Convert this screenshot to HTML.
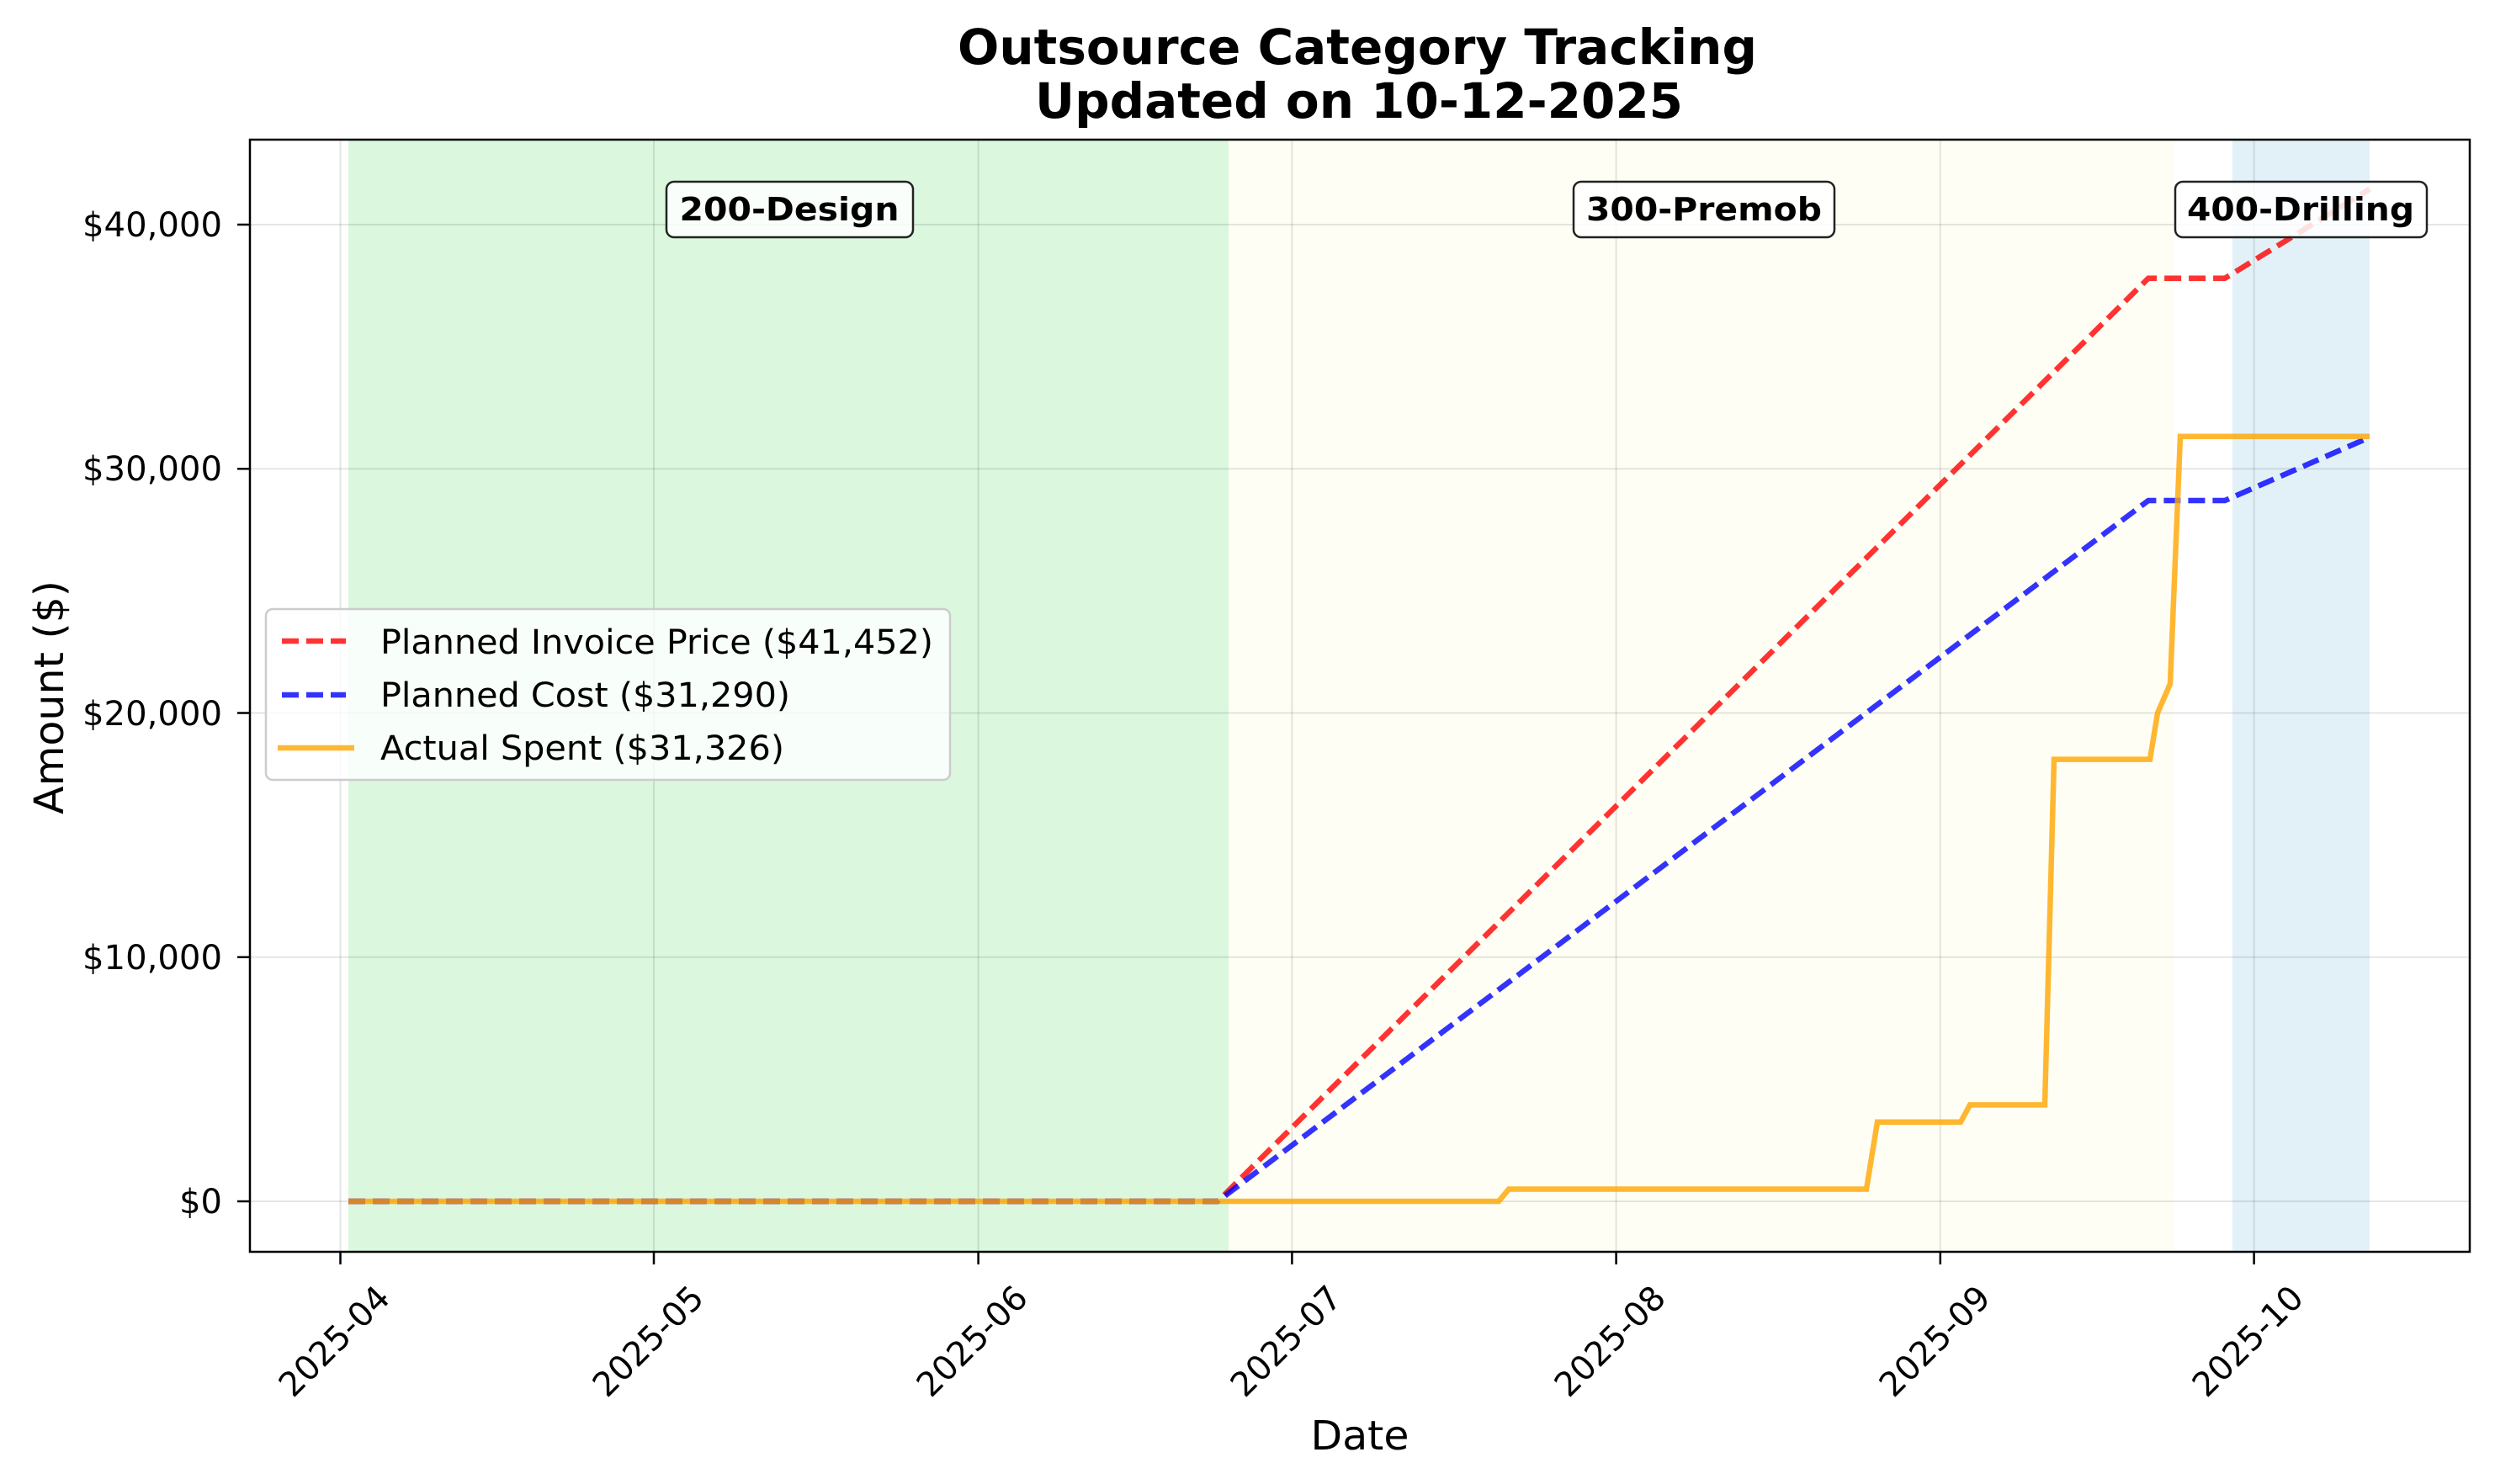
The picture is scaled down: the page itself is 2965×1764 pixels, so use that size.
<!DOCTYPE html>
<html><head><meta charset="utf-8"><style>html,body{margin:0;padding:0;background:#fff}svg{display:block}</style></head>
<body>
<svg width="2965" height="1764" viewBox="0 0 2965 1764" xmlns="http://www.w3.org/2000/svg" font-family="DejaVu Sans, Liberation Sans, sans-serif">
<rect width="2965" height="1764" fill="#fff"/>
<!-- spans -->
<rect x="414" y="166" width="1046" height="1322" fill="#dbf7de"/>
<rect x="1460" y="166" width="1123" height="1322" fill="#fefef4"/>
<rect x="2653" y="166" width="163" height="1322" fill="#e2f1f7"/>
<!-- grid -->
<g stroke="#000" stroke-opacity="0.1" stroke-width="2">
<line x1="404.5" y1="166" x2="404.5" y2="1488"/><line x1="777" y1="166" x2="777" y2="1488"/>
<line x1="1162.6" y1="166" x2="1162.6" y2="1488"/><line x1="1535.4" y1="166" x2="1535.4" y2="1488"/>
<line x1="1920.6" y1="166" x2="1920.6" y2="1488"/><line x1="2305.8" y1="166" x2="2305.8" y2="1488"/>
<line x1="2678.6" y1="166" x2="2678.6" y2="1488"/>
<line x1="297" y1="1428" x2="2935" y2="1428"/><line x1="297" y1="1137.75" x2="2935" y2="1137.75"/>
<line x1="297" y1="847.5" x2="2935" y2="847.5"/><line x1="297" y1="557.25" x2="2935" y2="557.25"/>
<line x1="297" y1="267" x2="2935" y2="267"/>
</g>
<!-- series -->
<polyline fill="none" stroke="#ff0000" stroke-opacity="0.8" stroke-width="6.5" stroke-dasharray="20,9" points="414,1428 1447,1428 2553,330.8 2644,330.8 2816,224.8"/>
<polyline fill="none" stroke="#0000ff" stroke-opacity="0.8" stroke-width="6.5" stroke-dasharray="20,9" points="414,1428 1447,1428 2553,595 2644,595 2816,519.8"/>
<polyline fill="none" stroke="#ffa500" stroke-opacity="0.8" stroke-width="6.5" points="414,1428 1781,1428 1793,1413.5 2218,1413.5 2231,1333.7 2330,1333.7 2341,1313.4 2430,1313.4 2441,902.6 2555,902.6 2564,847.5 2579,812.7 2591,518.8 2816,518.8"/>
<!-- axes -->
<rect x="297" y="166" width="2638" height="1322" fill="none" stroke="#000" stroke-width="2.5"/>
<!-- phase labels -->
<g font-weight="bold" font-size="38" text-anchor="middle">
<rect x="792" y="216" width="293" height="66" rx="9" fill="#fff" fill-opacity="0.85" stroke="#222" stroke-width="2.5"/>
<text x="938" y="262" textLength="261" lengthAdjust="spacingAndGlyphs">200-Design</text>
<rect x="1870" y="216" width="310" height="66" rx="9" fill="#fff" fill-opacity="0.85" stroke="#222" stroke-width="2.5"/>
<text x="2025" y="262" textLength="280" lengthAdjust="spacingAndGlyphs">300-Premob</text>
<rect x="2585" y="216" width="299" height="66" rx="9" fill="#fff" fill-opacity="0.85" stroke="#222" stroke-width="2.5"/>
<text x="2734" y="262" textLength="270" lengthAdjust="spacingAndGlyphs">400-Drilling</text>
</g>
<!-- y ticks -->
<g stroke="#000" stroke-width="2.5"><line x1="282" y1="1428" x2="297" y2="1428"/><line x1="282" y1="1137.75" x2="297" y2="1137.75"/><line x1="282" y1="847.5" x2="297" y2="847.5"/><line x1="282" y1="557.25" x2="297" y2="557.25"/><line x1="282" y1="267" x2="297" y2="267"/></g>
<g font-size="40" text-anchor="end">
<text x="264" y="1442">$0</text><text x="264" y="1152" textLength="166" lengthAdjust="spacingAndGlyphs">$10,000</text><text x="264" y="862" textLength="166" lengthAdjust="spacingAndGlyphs">$20,000</text><text x="264" y="571" textLength="166" lengthAdjust="spacingAndGlyphs">$30,000</text><text x="264" y="281" textLength="166" lengthAdjust="spacingAndGlyphs">$40,000</text>
</g>
<!-- x ticks -->
<g stroke="#000" stroke-width="2.5"><line x1="404.5" y1="1488" x2="404.5" y2="1503"/><line x1="777" y1="1488" x2="777" y2="1503"/><line x1="1162.6" y1="1488" x2="1162.6" y2="1503"/><line x1="1535.4" y1="1488" x2="1535.4" y2="1503"/><line x1="1920.6" y1="1488" x2="1920.6" y2="1503"/><line x1="2305.8" y1="1488" x2="2305.8" y2="1503"/><line x1="2678.6" y1="1488" x2="2678.6" y2="1503"/></g>
<g font-size="40" text-anchor="middle">
<text transform="translate(397,1594) rotate(-45)" dy="14" textLength="166" lengthAdjust="spacingAndGlyphs">2025-04</text>
<text transform="translate(770,1594) rotate(-45)" dy="14" textLength="166" lengthAdjust="spacingAndGlyphs">2025-05</text>
<text transform="translate(1155,1594) rotate(-45)" dy="14" textLength="166" lengthAdjust="spacingAndGlyphs">2025-06</text>
<text transform="translate(1528,1594) rotate(-45)" dy="14" textLength="166" lengthAdjust="spacingAndGlyphs">2025-07</text>
<text transform="translate(1913,1594) rotate(-45)" dy="14" textLength="166" lengthAdjust="spacingAndGlyphs">2025-08</text>
<text transform="translate(2299,1594) rotate(-45)" dy="14" textLength="166" lengthAdjust="spacingAndGlyphs">2025-09</text>
<text transform="translate(2671,1594) rotate(-45)" dy="14" textLength="166" lengthAdjust="spacingAndGlyphs">2025-10</text>
</g>
<text x="1616" y="1723" font-size="48" text-anchor="middle" textLength="117" lengthAdjust="spacingAndGlyphs">Date</text>
<text transform="translate(75,829) rotate(-90)" font-size="48" text-anchor="middle" textLength="278" lengthAdjust="spacingAndGlyphs">Amount ($)</text>
<!-- title -->
<g font-weight="bold" font-size="58" text-anchor="middle">
<text x="1613" y="76" textLength="950" lengthAdjust="spacingAndGlyphs">Outsource Category Tracking</text>
<text x="1615" y="140" textLength="770" lengthAdjust="spacingAndGlyphs">Updated on 10-12-2025</text>
</g>
<!-- legend -->
<rect x="316" y="724" width="813" height="203" rx="8" fill="#fff" fill-opacity="0.8" stroke="#ccc" stroke-width="2.5"/>
<line x1="335" y1="762" x2="411" y2="762" stroke="#ff0000" stroke-opacity="0.8" stroke-width="6.5" stroke-dasharray="20,9"/>
<line x1="335" y1="826" x2="411" y2="826" stroke="#0000ff" stroke-opacity="0.8" stroke-width="6.5" stroke-dasharray="20,9"/>
<line x1="330" y1="889" x2="421" y2="889" stroke="#ffa500" stroke-opacity="0.8" stroke-width="6.5"/>
<g font-size="40">
<text x="452" y="777" textLength="657" lengthAdjust="spacingAndGlyphs">Planned Invoice Price ($41,452)</text>
<text x="452" y="840" textLength="487" lengthAdjust="spacingAndGlyphs">Planned Cost ($31,290)</text>
<text x="452" y="903" textLength="480" lengthAdjust="spacingAndGlyphs">Actual Spent ($31,326)</text>
</g>
</svg>
</body></html>
